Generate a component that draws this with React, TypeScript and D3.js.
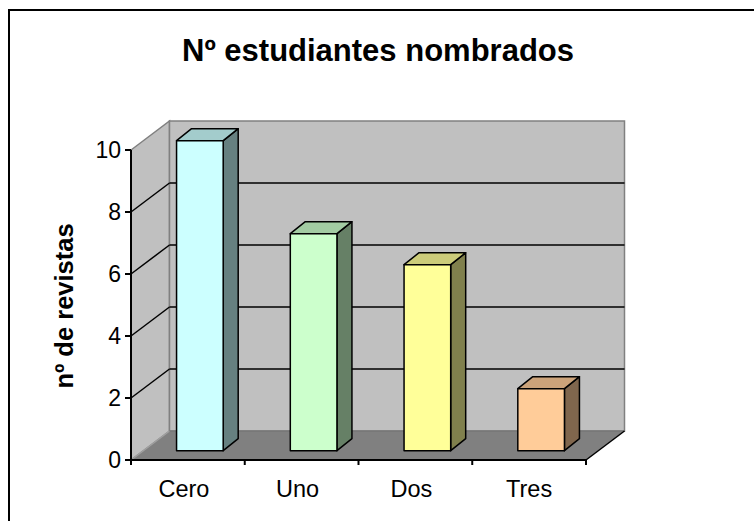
import React from "react";
import * as d3 from "d3";

const categories = ["Cero", "Uno", "Dos", "Tres"];
const values = [10, 7, 6, 2];
const frontColors = ["#CCFFFF", "#CCFFCC", "#FFFF99", "#FFCC99"];
const yTicks = [0, 2, 4, 6, 8, 10];
const title = "Nº estudiantes nombrados";
const yTitle = "nº de revistas";

const W = 754;
const H = 521;
const FONT = "Arial, 'Liberation Sans', sans-serif";

export default function App() {
  const x0 = 131;
  const x1 = 586;
  const y = d3.scaleLinear().domain([0, 10]).range([460, 150]);
  const x = d3.scaleBand<string>().domain(categories).range([x0, x1]).padding(0);
  const depth = { dx: 38.5, dy: -29 };
  const barFront = { dx: 12, dy: -9.3 };
  const barBack = { dx: 27, dy: -21.3 };
  const bw = x.bandwidth() * 0.41;

  const wallTop = y(10) + depth.dy;
  const wallBottom = y(0) + depth.dy;
  const wl = x0 + depth.dx;
  const wr = x1 + depth.dx;

  const pts = (p: number[][]) => p.map((q) => q.join(",")).join(" ");
  const shade = (c: string, k: number) => {
    const col = d3.rgb(c);
    return d3.rgb(col.r * k, col.g * k, col.b * k).formatHex();
  };

  return (
    <svg
      width={W}
      height={H}
      style={{ position: "absolute", left: 0, top: 0, background: "#fff" }}
    >
      {/* outer frame */}
      <rect x={9} y={10} width={W + 20} height={H + 20} fill="none" stroke="#000" strokeWidth={2} />

      <text x={378} y={61} textAnchor="middle" fontFamily={FONT} fontWeight="bold" fontSize={31}>
        {title}
      </text>

      {/* side wall */}
      <polygon
        points={pts([
          [x0, y(0)],
          [x0, y(10)],
          [wl, wallTop],
          [wl, wallBottom],
        ])}
        fill="#C0C0C0"
        stroke="#808080"
        strokeWidth={1.5}
      />
      {/* back wall */}
      <rect x={wl} y={wallTop} width={wr - wl} height={wallBottom - wallTop} fill="#C0C0C0" stroke="#808080" strokeWidth={1.5} />

      {/* gridlines */}
      {yTicks
        .filter((t) => t > 0 && t < 10)
        .map((t) => (
          <g key={"g" + t}>
            <line x1={x0} y1={y(t)} x2={wl} y2={y(t) + depth.dy} stroke="#000" strokeWidth={1.5} />
            <line x1={wl} y1={y(t) + depth.dy} x2={wr} y2={y(t) + depth.dy} stroke="#000" strokeWidth={1.5} />
          </g>
        ))}

      {/* floor */}
      <polygon
        points={pts([
          [x0, y(0)],
          [x1, y(0)],
          [wr, wallBottom],
          [wl, wallBottom],
        ])}
        fill="#808080"
        stroke="none"
      />
      <line x1={x0} y1={y(0)} x2={wl} y2={wallBottom} stroke="#A0A0A0" strokeWidth={1.5} />
      <line x1={wl} y1={wallBottom} x2={wr} y2={wallBottom} stroke="#707070" strokeWidth={1} />
      <line x1={x1} y1={y(0)} x2={wr} y2={wallBottom} stroke="#000" strokeWidth={1.5} />

      {/* bars */}
      {categories.map((c, i) => {
        const cx = (x(c) as number) + x.bandwidth() / 2;
        const l = cx - bw / 2 + barFront.dx;
        const r = cx + bw / 2 + barFront.dx;
        const t = y(values[i]) + barFront.dy;
        const b = y(0) + barFront.dy;
        const ddx = barBack.dx - barFront.dx;
        const ddy = barBack.dy - barFront.dy;
        const fc = frontColors[i];
        return (
          <g key={c} stroke="#000" strokeWidth={1.5} strokeLinejoin="round">
            <polygon
              points={pts([
                [r, b],
                [r, t],
                [r + ddx, t + ddy],
                [r + ddx, b + ddy],
              ])}
              fill={shade(fc, 0.5)}
            />
            <polygon
              points={pts([
                [l, t],
                [r, t],
                [r + ddx, t + ddy],
                [l + ddx, t + ddy],
              ])}
              fill={shade(fc, 0.8)}
            />
            <rect x={l} y={t} width={r - l} height={b - t} fill={fc} />
          </g>
        );
      })}

      {/* y axis */}
      <line x1={x0} y1={y(10)} x2={x0} y2={y(0) + 5} stroke="#000" strokeWidth={2} />
      {yTicks.map((t) => (
        <g key={"t" + t}>
          <line x1={x0 - 6} y1={y(t)} x2={x0} y2={y(t)} stroke="#000" strokeWidth={2} />
          <text
            x={121}
            y={y(t)}
            dy="0.36em"
            textAnchor="end"
            fontFamily={FONT}
            fontSize={23}
          >
            {t}
          </text>
        </g>
      ))}

      {/* x axis */}
      <line x1={x0} y1={y(0)} x2={x1} y2={y(0)} stroke="#000" strokeWidth={2} />
      {categories.map((c) => (
        <line
          key={"xt" + c}
          x1={(x(c) as number) + x.bandwidth()}
          y1={y(0)}
          x2={(x(c) as number) + x.bandwidth()}
          y2={y(0) + 5}
          stroke="#000"
          strokeWidth={2}
        />
      ))}
      {categories.map((c, i) => (
        <text
          key={"xl" + c}
          x={(x(c) as number) + x.bandwidth() / 2 - (i < 3 ? 4 : 0)}
          y={497}
          textAnchor="middle"
          fontFamily={FONT}
          fontSize={23.5}
        >
          {c}
        </text>
      ))}

      <text
        transform={`translate(73,306) rotate(-90)`}
        textAnchor="middle"
        fontFamily={FONT}
        fontWeight="bold"
        fontSize={25.5}
      >
        {yTitle}
      </text>
    </svg>
  );
}
